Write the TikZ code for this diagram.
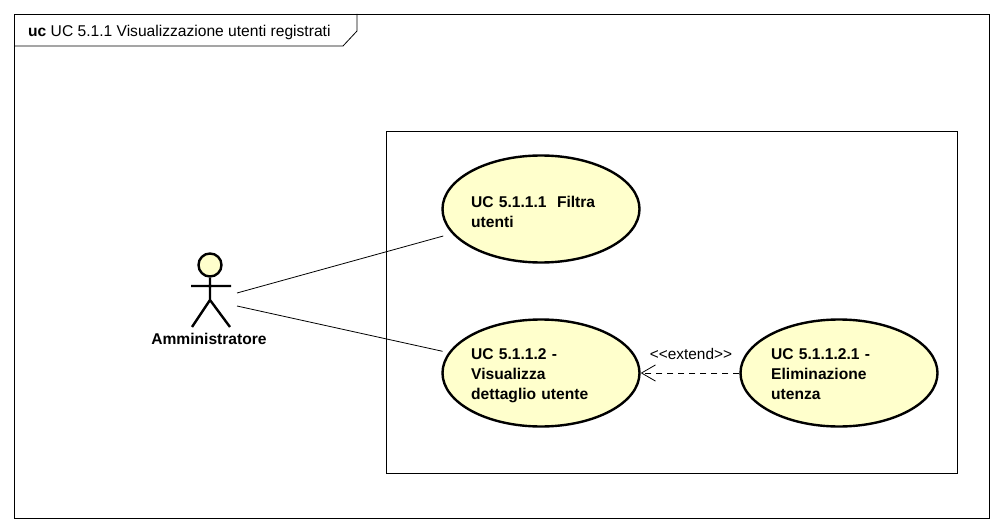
\documentclass[tikz,border=0pt]{standalone}
\usepackage{fontspec}
\setmainfont{Liberation Sans}
\usetikzlibrary{shapes.geometric,arrows.meta}
\definecolor{ucfill}{HTML}{FFFFCC}
\tikzset{
  x=1pt,y=-1pt,
  framebox/.style={draw=black,line width=0.8pt},
  usecase/.style={ellipse,draw=black,line width=2.4pt,fill=ucfill,inner sep=0pt,
    minimum width=197pt,minimum height=107pt},
  uctext/.style={anchor=west,inner sep=0pt,text width=150pt,align=left,font=\fontsize{15.6}{20}\selectfont\bfseries},
  actorline/.style={draw=black,line width=2.4pt},
  assoc/.style={draw=black,line width=0.8pt},
  ext/.style={draw=black,line width=0.8pt,dash pattern=on 6pt off 5pt,-{Straight Barb[length=14pt,width=17pt,line width=0.8pt,angle'=60]}},
}
\begin{document}
\begin{tikzpicture}
\useasboundingbox (0,0) rectangle (1002,532);
\fill[white] (0,0) rectangle (1002,532);
\draw[framebox] (14,14) rectangle (989,518);
\draw[framebox] (14,46) -- (343,46) -- (357,31) -- (357,14);
\node[anchor=base west,inner sep=0pt,font=\fontsize{15.6}{17}\selectfont] (title) at (28,37) {\textbf{uc} UC 5.1.1 Visualizzazione utenti registrati};
\draw[framebox] (386,131) rectangle (957,473);
\node[usecase] (uc1) at (541,209) {};
\node[usecase] (uc2) at (541,373) {};
\node[usecase] (uc3) at (839,373) {};
\node[uctext] (uc1t) at (471,211.5) {UC 5.1.1.1\ \ Filtra\\utenti};
\node[uctext] (uc2t) at (471,375.5) {UC 5.1.1.2 -\\Visualizza\\dettaglio utente};
\node[uctext] (uc3t) at (771,374) {UC 5.1.1.2.1 -\\Eliminazione\\utenza};
% actor
\node[circle,draw=black,line width=2.4pt,fill=ucfill,minimum size=23pt,inner sep=0pt] (head) at (210,265) {};
\coordinate (hip) at (210,300);
\coordinate (armL) at (191,286);
\coordinate (armR) at (231,286);
\coordinate (footL) at (192,327);
\coordinate (footR) at (230,327);
\draw[actorline] (head.south) -- (hip) (armL) -- (armR) (footL) -- (hip) -- (footR);
\node[font=\fontsize{15.6}{17}\selectfont\bfseries,inner sep=0pt,anchor=base] (actorname) at (209,344) {Amministratore};
\coordinate (a1) at (237,293);
\coordinate (a2) at (237,306);
\draw[assoc,shorten >=9pt] (a1) -- (uc1);
\draw[assoc,shorten >=6pt] (a2) -- (uc2);
\draw[ext] (uc3) -- (uc2);
\node[font=\fontsize{15.4}{17}\selectfont,inner sep=0pt,anchor=base] (extlab) at (691,359) {<{}<extend>{}>};
\end{tikzpicture}
\end{document}
